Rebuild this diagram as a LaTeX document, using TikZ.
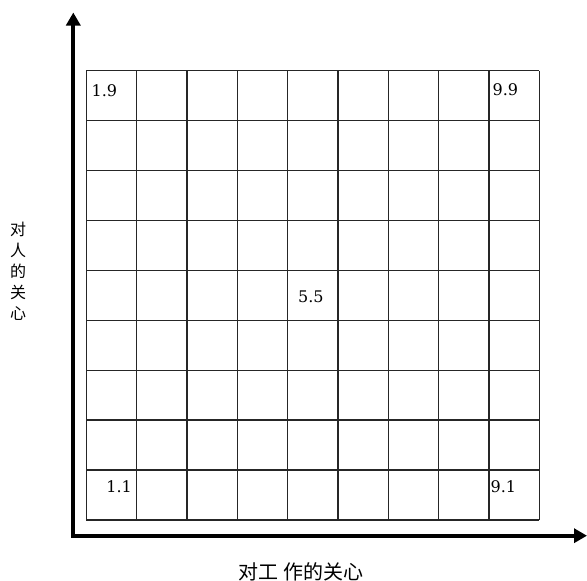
\documentclass[tikz,border=0pt]{standalone}
\usepackage{fontspec}
\newfontfamily\cjk{Noto Sans CJK SC}
\newfontfamily\numfont{DejaVu Serif}
\usetikzlibrary{arrows.meta}
\begin{document}
\begin{tikzpicture}[x=1pt,y=-1pt,
  gridline/.style={draw=black!85,line width=1.3pt},
  axis/.style={line width=4pt,{Triangle[width=14pt,length=13pt]}-{Triangle[width=14pt,length=13pt]}},
  num/.style={font=\numfont\fontsize{16}{16}\selectfont,inner sep=0pt},
  cjklabel/.style={font=\cjk\fontsize{20}{21}\selectfont,inner sep=0pt},
  cjkvert/.style={font=\cjk\fontsize{16}{21}\selectfont,inner sep=0pt,align=center}]
\useasboundingbox (0,0) rectangle (587,581);
% grid
\foreach \i in {0,...,9}{
  \coordinate (ct\i) at ({86.3+\i*50.33},70.7);
  \coordinate (cb\i) at ({86.3+\i*50.33},520);
  \coordinate (rl\i) at (86.3,{70.7+\i*49.92});
  \coordinate (rr\i) at (539.3,{70.7+\i*49.92});
  \draw[gridline] (ct\i) -- (cb\i);
  \draw[gridline] (rl\i) -- (rr\i);
}
% axes
\coordinate (ytip) at (73.3,12.5);
\coordinate (origin) at (73.3,535.7);
\coordinate (xtip) at (587,535.7);
\draw[axis] (ytip) -- (origin) -- (xtip);
% cell labels
\node[num,anchor=west] (n19) at (91.5,90.5) {1.9};
\node[num,anchor=west] (n99) at (492.5,89.5) {9.9};
\node[num,anchor=east] (n11) at (132,486.7) {1.1};
\node[num,anchor=west] (n91) at (490.5,486.5) {9.1};
\node[num,anchor=west] (n55) at (298,297) {5.5};
% axis labels
\node[cjkvert] (ylab) at (18,271.7) {对\\人\\的\\关\\心};
\node[cjklabel] (xlab) at (300.5,572) {对工\hspace{5pt}作的关心};
\end{tikzpicture}
\end{document}
